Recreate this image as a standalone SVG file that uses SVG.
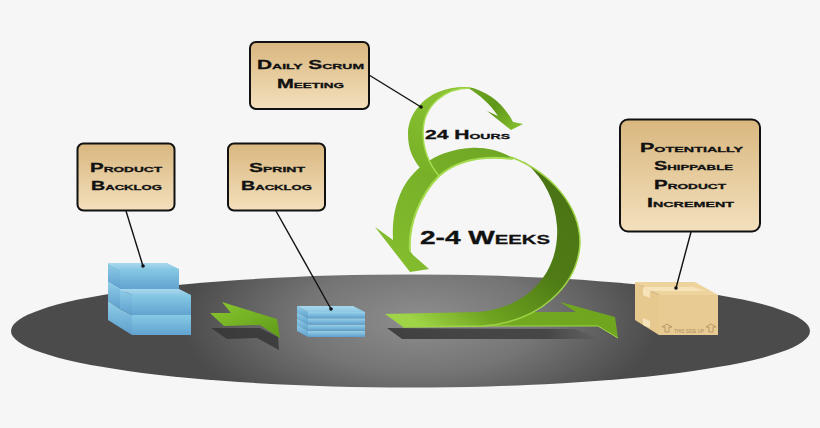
<svg xmlns="http://www.w3.org/2000/svg" width="820" height="428" viewBox="0 0 820 428">
<style>
.box{fill:url(#tan);stroke:#111;stroke-width:2}
.t{font-family:"Liberation Sans",Arial,sans-serif;font-weight:bold;font-variant:small-caps;fill:#111;stroke:#111;stroke-width:.3px;font-size:12px}
.lead{stroke:#111;stroke-width:1.4;fill:none}
.dot{fill:#111}
.bT{fill:url(#blueTop)}.bF{fill:url(#blueFront)}.bS{fill:url(#blueSide)}.pF{fill:url(#plate)}
</style>
<defs>
<linearGradient id="tan" x1="0" y1="0" x2="0" y2="1"><stop offset="0" stop-color="#d9b77f"/><stop offset="1" stop-color="#f3e0bd"/></linearGradient>
<radialGradient id="floor" gradientUnits="userSpaceOnUse" cx="0" cy="0" r="1" gradientTransform="translate(420 320) scale(240 105)"><stop offset="0" stop-color="#8e8e8e"/><stop offset=".5" stop-color="#757575"/><stop offset="1" stop-color="#4b4b4b"/></radialGradient>
<linearGradient id="blueTop" x1="0" y1="0" x2="0" y2="1"><stop offset="0" stop-color="#a9d8ee"/><stop offset="1" stop-color="#8cc8e4"/></linearGradient>
<linearGradient id="blueFront" x1="0" y1="0" x2="0" y2="1"><stop offset="0" stop-color="#86c9e4"/><stop offset="1" stop-color="#62a3d0"/></linearGradient>
<linearGradient id="blueSide" x1="0" y1="0" x2="0" y2="1"><stop offset="0" stop-color="#8fcde8"/><stop offset="1" stop-color="#5e9fcd"/></linearGradient>
<linearGradient id="plate" x1="0" y1="0" x2="0" y2="1"><stop offset="0" stop-color="#97d2ea"/><stop offset="1" stop-color="#5f9fcc"/></linearGradient>
<linearGradient id="gSmall" gradientUnits="userSpaceOnUse" x1="410" y1="170" x2="450" y2="85"><stop offset="0" stop-color="#78b026"/><stop offset="1" stop-color="#8cc435"/></linearGradient>
<linearGradient id="gHead" gradientUnits="userSpaceOnUse" x1="470" y1="88" x2="515" y2="128"><stop offset="0" stop-color="#6ea522"/><stop offset=".5" stop-color="#5f9718"/><stop offset="1" stop-color="#82bc2c"/></linearGradient>
<linearGradient id="gRight" gradientUnits="userSpaceOnUse" x1="540" y1="170" x2="420" y2="325"><stop offset="0" stop-color="#4a7414"/><stop offset=".4" stop-color="#4f7c16"/><stop offset=".75" stop-color="#6ea31f"/><stop offset="1" stop-color="#9ed445"/></linearGradient>
<linearGradient id="gTail" x1="0" y1="0" x2="1" y2="0"><stop offset="0" stop-color="#78ae22"/><stop offset="1" stop-color="#6fa51e"/></linearGradient>
<linearGradient id="gLeft" gradientUnits="userSpaceOnUse" x1="400" y1="270" x2="500" y2="150"><stop offset="0" stop-color="#84bd2e"/><stop offset="1" stop-color="#6fa624"/></linearGradient>
<linearGradient id="gArrow" x1="0" y1="0" x2="1" y2="1"><stop offset="0" stop-color="#8ac830"/><stop offset="1" stop-color="#5e9a18"/></linearGradient>
<linearGradient id="shade" x1="0" y1="0" x2="1" y2="0"><stop offset="0" stop-color="#333" stop-opacity=".85"/><stop offset=".75" stop-color="#333" stop-opacity=".7"/><stop offset="1" stop-color="#333" stop-opacity="0"/></linearGradient>
</defs>
<rect width="820" height="428" fill="#f6f6f6"/>
<g id="floor-ellipse"><ellipse cx="410.500" cy="331" rx="399.500" ry="56.500" fill="url(#floor)"/></g>

<g id="product-stack">
<polygon class="bS" points="108,263 120,269 120,289 108,282"/>
<polygon class="bS" points="108,282 120,289 120,309 108,301"/>
<polygon class="bS" points="108,301 120,309 132,315 132,335 108,320"/>
<polygon class="bT" points="108,263 167,263 179,269 120,269"/>
<polygon class="bF" points="120,269 179,269 179,289 120,289"/>
<polygon class="bS" points="120,289 132,295 132,315 120,309"/>
<polygon class="bT" points="120,289 179,289 191,295 132,295"/>
<polygon class="bF" points="132,295 191,295 191,315 132,315"/>
<polygon class="bF" points="132,315 191,315 191,335 132,335"/>
</g>

<g id="small-arrow">
<polygon points="211,328 260,328 278,337 279,350 257,338 227,339" fill="#333" opacity=".8"/>
<polygon points="210,313 231,313 222,302 277,319 280,338 260,325 224,326" fill="url(#gArrow)"/>
</g>

<g id="sprint-stack">
<polygon class="bS" points="297,324.750 308,330.750 308,337 297,331"/>
<polygon class="pF" points="308,330.750 365,330.750 365,337 308,337"/>
<polygon class="bS" points="297,318.500 308,324.500 308,330.750 297,324.750"/>
<polygon class="pF" points="308,324.500 365,324.500 365,330.750 308,330.750"/>
<polygon class="bS" points="297,312.250 308,318.250 308,324.500 297,318.500"/>
<polygon class="pF" points="308,318.250 365,318.250 365,324.500 308,324.500"/>
<polygon class="bS" points="297,306 308,312 308,318.250 297,312.250"/>
<polygon class="pF" points="308,312 365,312 365,318.250 308,318.250"/>
<polygon class="bT" points="297,306 353,306 365,312 308,312"/>
</g>

<g id="box-package">
<polygon points="635,282 659,295 659,335 635,320" fill="#e6c98e"/>
<polygon points="635,282 695,282 718,295 659,295" fill="#eed39c"/>
<polygon points="659,295 718,295 718,335 659,335" fill="#e8cb92"/>
<polygon points="643,287 693,287 705,291 650,291" fill="#f6e3b9"/>
<polygon points="643,287 650,291 650,298 643,295" fill="#f6e3b9"/>
<polygon points="643,318 650,321 650,328 643,325" fill="#f6e3b9"/>
<path d="M665,332V327H662L667,324 L672,327H669V332Z M709,332V327H706L711,324 L716,327H713V332Z" fill="none" stroke="#b08b60" stroke-width=".8"/>
<text x="674" y="332.500" font-family="Liberation Sans,sans-serif" font-size="5.500" fill="#b08b60" textLength="30" lengthAdjust="spacingAndGlyphs">THIS SIDE UP</text>
</g>

<g id="spiral">
<polygon points="387,328 402,339 600,339 575,329" fill="url(#shade)"/>
<polygon points="403,326 598,326 618,338 615,317 560,302 576,312 500,312" fill="url(#gTail)"/>
<path d="M403,326H598L618,338" fill="none" stroke="#a0d848" stroke-width="1"/>
<path d="M513,158C498,150 485,147 470,148C440,150 415,165 402,190C395,205 392,220 393,240L375,227L410,272L429,269L413,255L410,251C408,225 420,195 439,176C455,162 480,155 513,159Z" fill="url(#gLeft)"/>
<path d="M410,251C408,225 420,195 439,176C455,162 480,155 513,159" fill="none" stroke="#a6dc50" stroke-width="2"/>
<path d="M511,157C550,172 580,205 580,243C578,285 540,322 483,326L403,327L385,314L478,312C530,308 560,270 557,226C555,200 545,180 526,163Z" fill="url(#gRight)"/>
<path d="M511,157C550,172 580,205 580,243C578,285 540,322 483,326L403,327" fill="none" stroke="#9ed445" stroke-width="1.500"/>
</g>
<g id="small-loop">
<path d="M468,87C485,90 503,102 513,122L523,124L511,130L487,111L498,116C490,104 480,95 468,88Z" fill="url(#gHead)"/>
<path d="M420,168C410,155 408,145 408,133C408,115 425,86 467,87L470,88C445,88 423,105 423,133C423,150 430,165 439,176Z" fill="url(#gSmall)"/>
<path d="M470,88C445,88 423,105 423,133C423,150 430,165 439,176" fill="none" stroke="#a6dc50" stroke-width="1.500"/>
</g>

<g id="connectors">
<path class="lead" d="M126,211L143,266"/><circle class="dot" cx="143" cy="266" r="1.800"/>
<path class="lead" d="M276,211L331,309"/><circle class="dot" cx="331" cy="309" r="1.800"/>
<path class="lead" d="M369,75L421,107"/><circle class="dot" cx="421" cy="107" r="1.800"/>
<path class="lead" d="M691,232L676,288"/><circle class="dot" cx="676" cy="288" r="1.800"/>
</g>

<g id="node-product"><rect class="box" x="77.500" y="143.500" width="97" height="67" rx="6"/>
<text class="t" x="90" y="172" textLength="72" lengthAdjust="spacingAndGlyphs">Product</text>
<text class="t" x="91" y="190" textLength="71" lengthAdjust="spacingAndGlyphs">Backlog</text></g>
<g id="node-sprint"><rect class="box" x="228" y="143.500" width="97" height="67" rx="6"/>
<text class="t" x="249" y="172" textLength="56" lengthAdjust="spacingAndGlyphs">Sprint</text>
<text class="t" x="241" y="190" textLength="71" lengthAdjust="spacingAndGlyphs">Backlog</text></g>
<g id="node-daily"><rect class="box" x="250" y="42" width="119" height="67" rx="6"/>
<text class="t" x="257" y="69" textLength="107" lengthAdjust="spacingAndGlyphs">Daily Scrum</text>
<text class="t" x="277" y="88" textLength="67" lengthAdjust="spacingAndGlyphs">Meeting</text></g>
<g id="node-increment"><rect class="box" x="620" y="119.500" width="140" height="112" rx="8"/>
<text class="t" x="640" y="152" textLength="103" lengthAdjust="spacingAndGlyphs">Potentially</text>
<text class="t" x="654" y="170" textLength="79" lengthAdjust="spacingAndGlyphs">Shippable</text>
<text class="t" x="654" y="189" textLength="72" lengthAdjust="spacingAndGlyphs">Product</text>
<text class="t" x="647" y="207" textLength="87" lengthAdjust="spacingAndGlyphs">Increment</text></g>
<g id="labels">
<text class="t" x="425" y="139" textLength="85" lengthAdjust="spacingAndGlyphs">24 Hours</text>
<text class="t" style="font-size:18px" x="420" y="243.500" textLength="130" lengthAdjust="spacingAndGlyphs">2-4 Weeks</text>
</g>
</svg>
